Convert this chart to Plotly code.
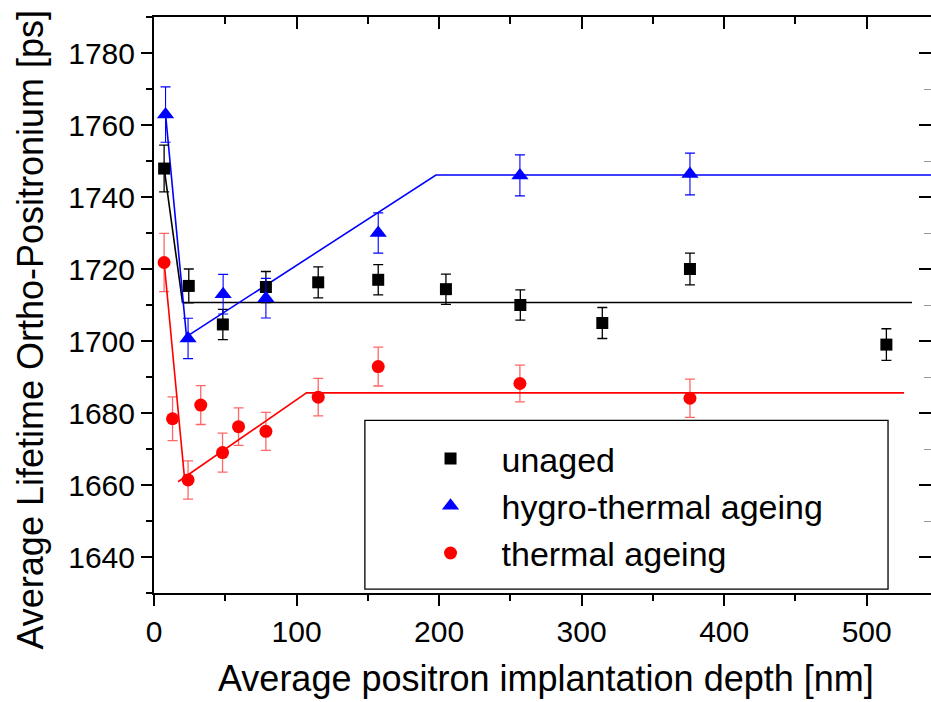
import plotly.graph_objects as go

# ---- data ----
unaged_x = [7.1, 24.4, 48.3, 78.5, 115.2, 157.3, 204.8, 257.0, 314.5, 376.0, 513.8]
unaged_y = [1747.9, 1715.3, 1704.6, 1715.0, 1716.3, 1717.0, 1714.4, 1710.0, 1705.0, 1720.0, 1699.0]
unaged_err = [6.5, 4.7, 4.2, 4.3, 4.3, 4.2, 4.2, 4.2, 4.3, 4.4, 4.4]

hygro_x = [8.1, 23.9, 48.5, 78.5, 157.3, 256.7, 376.0]
hygro_y = [1762.9, 1700.7, 1713.0, 1711.9, 1730.0, 1746.0, 1746.4]
hygro_err = [7.7, 5.6, 5.5, 5.5, 5.6, 5.7, 5.8]

thermal_x = [7.1, 13.0, 23.9, 32.8, 48.1, 59.3, 78.5, 115.2, 157.3, 256.7, 376.0]
thermal_y = [1721.8, 1678.4, 1661.4, 1682.2, 1669.0, 1676.2, 1674.9, 1684.4, 1692.9, 1688.2, 1684.1]
thermal_err = [8.1, 6.1, 5.3, 5.4, 5.4, 5.2, 5.3, 5.2, 5.4, 5.1, 5.3]

# fitted guide lines
unaged_fit_x = [7.1, 20.0, 531.8]
unaged_fit_y = [1748.0, 1710.7, 1710.7]
hygro_fit_x = [8.1, 22.8, 197.8, 545.1]
hygro_fit_y = [1763.0, 1701.2, 1746.1, 1746.1]
thermal_fit1_x = [7.1, 21.5]
thermal_fit1_y = [1722.0, 1661.5]
thermal_fit2_x = [16.9, 107.0, 526.2]
thermal_fit2_y = [1660.9, 1685.6, 1685.6]

x_ticks = [0, 100, 200, 300, 400, 500]
y_ticks = [1640, 1660, 1680, 1700, 1720, 1740, 1760, 1780]
x_range = [0, 545.1]
y_range = [1630, 1790]

FONT = "Liberation Sans, Arial, sans-serif"
BLACK, BLUE, RED = "#000000", "#0000FF", "#FF0000"

fig = go.Figure()

# fit lines (drawn first, under markers)
for fx, fy, c in [(unaged_fit_x, unaged_fit_y, BLACK),
                  (hygro_fit_x, hygro_fit_y, BLUE),
                  (thermal_fit1_x, thermal_fit1_y, RED),
                  (thermal_fit2_x, thermal_fit2_y, RED)]:
    fig.add_trace(go.Scatter(x=fx, y=fy, mode="lines", line=dict(color=c, width=1.6),
                             showlegend=False, hoverinfo="skip"))

fig.add_trace(go.Scatter(
    x=unaged_x, y=unaged_y, mode="markers", name="unaged",
    marker=dict(symbol="square", size=12, color=BLACK),
    error_y=dict(type="data", array=unaged_err, color=BLACK, thickness=1.3, width=5)))
fig.add_trace(go.Scatter(
    x=hygro_x, y=hygro_y, mode="markers", name="hygro-thermal ageing",
    marker=dict(symbol="triangle-up", size=15, color=BLUE),
    error_y=dict(type="data", array=hygro_err, color=BLUE, thickness=1.1, width=5)))
fig.add_trace(go.Scatter(
    x=thermal_x, y=thermal_y, mode="markers", name="thermal ageing",
    marker=dict(symbol="circle", size=13, color=RED),
    error_y=dict(type="data", array=thermal_err, color="rgba(255,0,0,0.6)", thickness=1.3, width=5)))

# dummy trace to activate top / right tick axes
fig.add_trace(go.Scatter(x=[None], y=[None], xaxis="x2", yaxis="y2", showlegend=False, hoverinfo="skip"))

axis_common = dict(showgrid=False, zeroline=False, tickcolor=BLACK, linecolor=BLACK,
                   tickfont=dict(family=FONT, size=30, color=BLACK))

fig.update_layout(
    width=931, height=702,
    margin=dict(l=154, r=0, t=17, b=109),
    paper_bgcolor="white", plot_bgcolor="white",
    font=dict(family=FONT, color=BLACK),
    hovermode=False,
    xaxis=dict(range=x_range, tickvals=x_ticks, ticks="outside", ticklen=11, tickwidth=2,
               showline=True, linewidth=2,
               minor=dict(dtick=50, tick0=0, ticks="outside", ticklen=6, tickwidth=1.5, tickcolor=BLACK),
               **axis_common),
    yaxis=dict(range=y_range, tickvals=y_ticks, ticks="outside", ticklen=11, tickwidth=2,
               showline=True, linewidth=2,
               minor=dict(dtick=10, tick0=1630, ticks="outside", ticklen=6, tickwidth=1.5, tickcolor=BLACK),
               **axis_common),
    xaxis2=dict(range=x_range, overlaying="x", side="top", anchor="y", tickvals=x_ticks,
                ticks="inside", ticklen=12, tickwidth=2, showline=True, linewidth=2,
                showticklabels=False,
                minor=dict(dtick=50, tick0=0, ticks="inside", ticklen=7, tickwidth=1.5, tickcolor=BLACK),
                **axis_common),
    yaxis2=dict(range=y_range, overlaying="y", side="right", anchor="x", tickvals=y_ticks,
                ticks="inside", ticklen=12, tickwidth=2, showline=False,
                showticklabels=False,
                minor=dict(dtick=10, tick0=1630, ticks="inside", ticklen=7, tickwidth=1, tickcolor="#999999"),
                **axis_common),
    legend=dict(x=0.316, y=0.283, xanchor="left", yanchor="top",
                bgcolor="rgba(0,0,0,0)", borderwidth=0, itemwidth=92,
                font=dict(family=FONT, size=34, color=BLACK)),
    shapes=[dict(type="rect", xref="paper", yref="paper",
                 x0=0.2714, x1=0.9447, y0=0.0069, y1=0.2997,
                 line=dict(color=BLACK, width=1.3), fillcolor="white", layer="below")],
    annotations=[
        dict(text="Average positron implantation depth [nm]", xref="paper", yref="paper",
             x=0.5044, y=-0.187, xanchor="center", yanchor="bottom", showarrow=False,
             font=dict(family=FONT, size=36, color=BLACK)),
        dict(text="Average Lifetime Ortho-Positronium [ps]", xref="paper", yref="paper",
             x=-0.1586, y=0.457, xanchor="center", yanchor="middle", textangle=-90,
             showarrow=False, font=dict(family=FONT, size=36, color=BLACK)),
    ],
)

fig.write_html("out.html", config={"displayModeBar": False},
               post_script="document.body.style.margin='0';")
